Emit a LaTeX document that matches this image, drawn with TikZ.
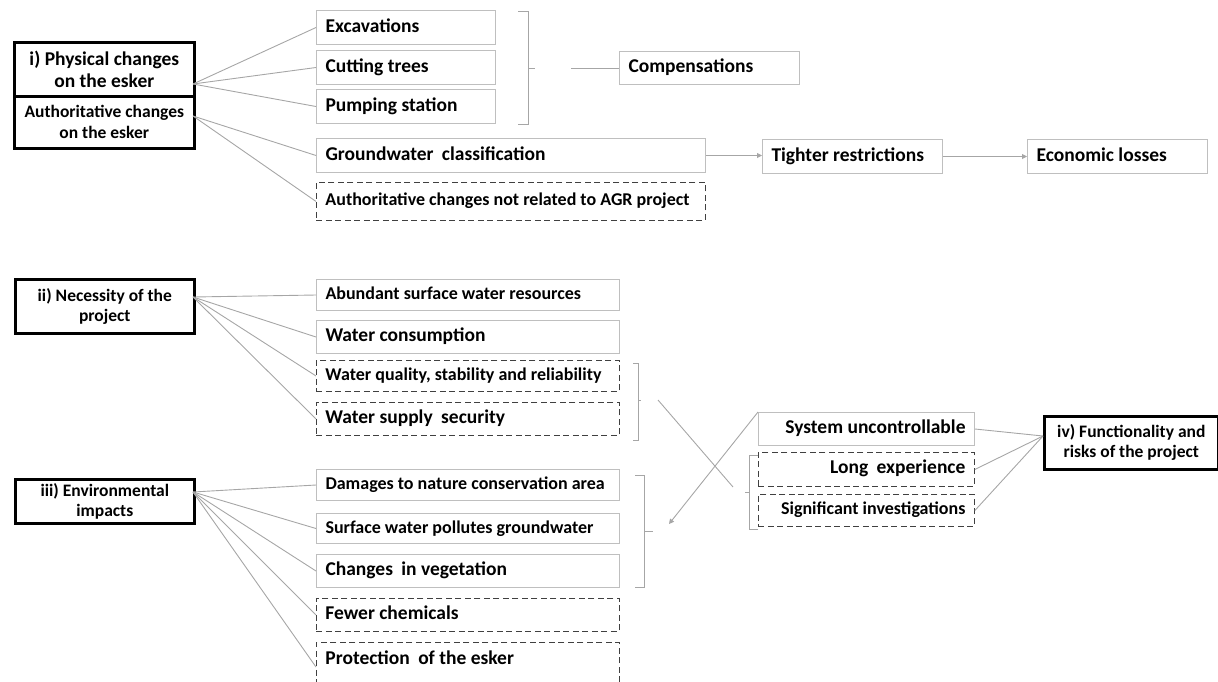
\documentclass[tikz,border=0pt]{standalone}
\usepackage{fontspec}
\setmainfont{Carlito}
\usetikzlibrary{arrows.meta}

\definecolor{boxgray}{HTML}{BFBFBF}
\definecolor{linkgray}{HTML}{A6A6A6}
\definecolor{dashgray}{HTML}{404040}

\newcommand{\bigtxt}{\bfseries\fontsize{19.5}{22}\selectfont}
\newcommand{\smalltxt}{\bfseries\fontsize{18}{20}\selectfont}
\newcommand{\headtxt}{\bfseries\fontsize{17.5}{20}\selectfont}
\newcommand{\gap}{\hspace{4pt}}

\tikzset{
  item/.style={anchor=north west, inner xsep=9pt, inner ysep=0pt, align=flush left,
    text height=13pt, text depth=4pt, font=\bigtxt},
  solidbox/.style={item, draw=boxgray, line width=1pt},
  dashbox/.style={item, draw=dashgray, line width=0.9pt, dash pattern=on 6pt off 3.5pt},
  headbox/.style={draw=black, line width=2.6pt, anchor=north west, align=flush center,
    inner sep=0pt, font=\headtxt},
  link/.style={draw=linkgray, line width=0.9pt},
  pointer/.style={link, -{Triangle[width=5pt,length=5pt]}},
  brace/.style={draw=linkgray, line width=1pt}
}

\begin{document}
\begin{tikzpicture}[x=1pt, y=-1pt]
 \clip (0,0) rectangle (1218,681);

 % i) physical / authoritative changes
 \node[headbox, minimum width=180, minimum height=54, font=\bigtxt] (phys) at (13,41) {i) Physical changes\\on the esker};
 \node[headbox, minimum width=180, minimum height=52, font=\bfseries\fontsize{17.5}{21}\selectfont] (auth) at (13,95) {Authoritative changes\\on the esker};
 \coordinate (physout) at (193,84);
 \coordinate (authout) at (193,116);

 \foreach \name/\y/\txt in {exc/10/Excavations, cut/50/Cutting trees, pump/89/Pumping station}
   \node[solidbox, text width=161, minimum height=34] (\name) at (316,\y) {\txt};

 \node[solidbox, text width=371, minimum height=34] (gw) at (316,138) {Groundwater\gap{} classification};
 \node[dashbox, text width=371, minimum height=38, font=\smalltxt] (agr) at (316,182) {Authoritative changes not related to AGR project};

 \node[solidbox, text width=162, minimum height=33] (comp) at (619,51) {Compensations};
 \node[solidbox, text width=162, minimum height=34] (tight) at (762,139) {Tighter restrictions};
 \node[solidbox, text width=162, minimum height=34] (econ) at (1027,139) {Economic losses};

 \foreach \dest in {exc, cut, pump}
   \path[link] (physout) -- (\dest.west);
 \foreach \dest in {gw, agr}
   \path[link] (authout) -- (\dest.west);

 \draw[brace] (518,11) -- (528,11) -- (528,124) -- (518,124);
 \draw[brace] (528,68) -- (535,68);
 \coordinate (compin) at (571,68);
 \path[link] (compin) -- (comp.west |- compin);
 \path[pointer] (gw.east) -- (gw.east -| tight.west);
 \path[pointer] (tight.east) -- (econ.west);

 % ii) necessity
 \node[headbox, minimum width=179, minimum height=54] (need) at (14,278) {ii) Necessity of the\\project};
 \coordinate (needout) at (193,297);

 \node[solidbox, text width=285, minimum height=31, font=\smalltxt] (abund) at (316,279) {Abundant surface water resources};
 \node[solidbox, text width=285, minimum height=33] (cons) at (316,320) {Water consumption};
 \node[dashbox, text width=285, minimum height=31, font=\smalltxt] (qual) at (316,360) {Water quality, stability and reliability};
 \node[dashbox, text width=285, minimum height=33] (supply) at (316,402) {Water supply\gap{} security};

 \foreach \dest in {abund, cons, qual, supply}
   \path[link] (needout) -- (\dest.west);

 \draw[brace] (633,363) -- (638,363) -- (638,440) -- (633,440);
 \draw[brace] (638,400) -- (641,400);

 % iii) environmental impacts
 \node[headbox, minimum width=179, minimum height=44] (env) at (14,478) {iii) Environmental\\impacts};
 \coordinate (envout) at (193,492);

 \node[solidbox, text width=285, minimum height=31, font=\smalltxt] (damage) at (316,469) {Damages to nature conservation area};
 \node[solidbox, text width=285, minimum height=30, font=\smalltxt] (surf) at (316,513) {Surface water pollutes groundwater};
 \node[solidbox, text width=285, minimum height=33] (veg) at (316,554) {Changes\gap{} in vegetation};
 \node[dashbox, text width=285, minimum height=33] (fewer) at (316,598) {Fewer chemicals};
 \node[dashbox, text width=285, text height=22pt, text depth=38pt] (protect) at (316,642) {Protection\gap{} of the esker};

 \foreach \dest in {damage, surf, veg, fewer}
   \path[link] (envout) -- (\dest.west);
 \path[link] (envout) -- (protect.west |- 0,667);

 \draw[brace] (635,475) -- (644,475) -- (644,587) -- (635,587);
 \draw[brace] (644,531) -- (653,531);

 % iv) functionality and risks
 \node[headbox, minimum width=174, minimum height=53] (func) at (1043,415) {iv) Functionality and\\risks of the project};
 \coordinate (funcin) at (1043,436);

 \node[solidbox, text width=198, minimum height=33, align=flush right] (sys) at (758,412) {System uncontrollable};
 \node[dashbox, text width=198, minimum height=34, align=flush right] (long) at (758,452) {Long\gap{} experience};
 \node[dashbox, text width=198, minimum height=32, align=flush right, font=\smalltxt] (signif) at (758,494) {Significant investigations};

 \foreach \src in {sys, long, signif}
   \path[link] (\src.east) -- (funcin);

 \draw[brace] (758,455) -- (749,455) -- (749,529) -- (758,529);
 \draw[brace] (749,492) -- (745,492);

 % crossing lines
 \coordinate (crossa) at (658,400);
 \coordinate (crossb) at (733,487);
 \coordinate (envin) at (669,524);
 \path[link] (crossa) -- (crossb);
 \path[pointer] (sys.north west) -- (envin);

\end{tikzpicture}
\end{document}
